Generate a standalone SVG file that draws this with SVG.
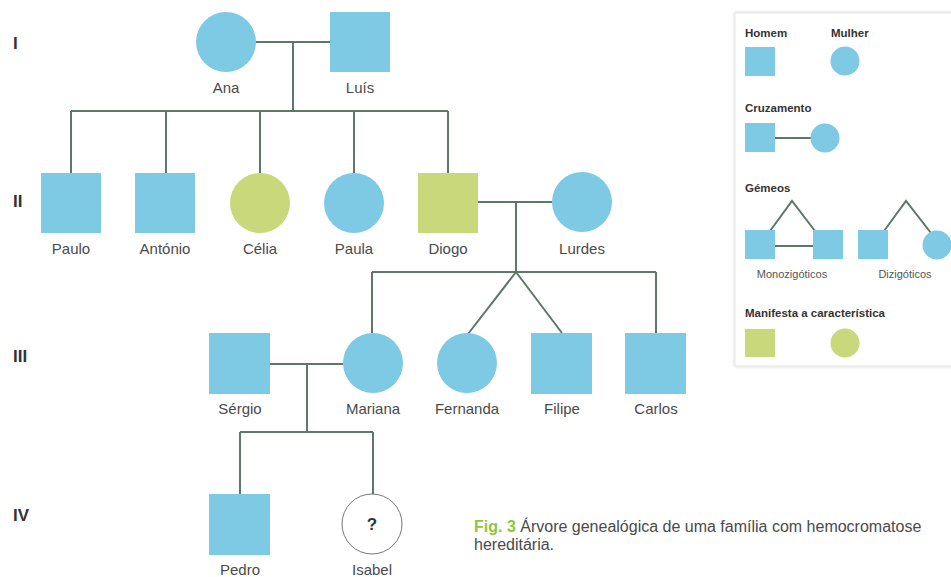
<svg xmlns="http://www.w3.org/2000/svg" width="951" height="577" viewBox="0 0 951 577">
<defs>
<style>
.b{fill:#7ec9e3}
.g{fill:#c9d87b}
.ln{stroke:#5e7868;stroke-width:2;fill:none}
.lbl{font-family:"Liberation Sans",Arial,sans-serif;font-size:15px;fill:#4a4a4a;text-anchor:middle}
.gen{font-family:"Liberation Sans",Arial,sans-serif;font-size:17px;font-weight:bold;fill:#333}
.lt{font-family:"Liberation Sans",Arial,sans-serif;font-size:11.5px;font-weight:bold;fill:#333}
.ls{font-family:"Liberation Sans",Arial,sans-serif;font-size:11px;fill:#555;text-anchor:middle}
.cap{font-family:"Liberation Sans",Arial,sans-serif;font-size:16px;fill:#4a4a4a}
</style>
<filter id="sh" x="-5%" y="-5%" width="110%" height="110%">
<feDropShadow dx="0" dy="0" stdDeviation="1.5" flood-color="#000" flood-opacity="0.2"/>
</filter>
</defs>
<rect width="951" height="577" fill="#fff"/>

<g id="generations">
<text class="gen" x="13" y="49">I</text>
<text class="gen" x="13" y="207">II</text>
<text class="gen" x="13" y="362">III</text>
<text class="gen" x="13" y="521">IV</text>
</g>

<g id="connectors">
<path class="ln" d="M256 42H330M293 42V111M71 111H448M71 111V173M166 111V173M260 111V173M354 111V173M448 111V173"/>
<path class="ln" d="M478 202H552M516 202V272M372 272H656M372 272V333M656 272V333M516 272L468 334M516 272L562 333"/>
<path class="ln" d="M270 364H343M307 364V432M240 432H373M240 432V494M373 432V494"/>
</g>

<g id="ana"><circle class="b" cx="226" cy="42" r="30"/><text class="lbl" x="226" y="93">Ana</text></g>
<g id="luis"><rect class="b" x="330" y="12" width="60" height="60"/><text class="lbl" x="360" y="93">Luís</text></g>

<g id="paulo"><rect class="b" x="41" y="173" width="60" height="60"/><text class="lbl" x="71" y="254">Paulo</text></g>
<g id="antonio"><rect class="b" x="135" y="173" width="60" height="60"/><text class="lbl" x="165" y="254">António</text></g>
<g id="celia"><circle class="g" cx="260" cy="203" r="30"/><text class="lbl" x="260" y="254">Célia</text></g>
<g id="paula"><circle class="b" cx="354" cy="203" r="30"/><text class="lbl" x="354" y="254">Paula</text></g>
<g id="diogo"><rect class="g" x="418" y="173" width="60" height="60"/><text class="lbl" x="448" y="254">Diogo</text></g>
<g id="lurdes"><circle class="b" cx="582" cy="202" r="30"/><text class="lbl" x="582" y="254">Lurdes</text></g>

<g id="sergio"><rect class="b" x="209" y="333" width="61" height="61"/><text class="lbl" x="240" y="414">Sérgio</text></g>
<g id="mariana"><circle class="b" cx="373" cy="363" r="30"/><text class="lbl" x="373" y="414">Mariana</text></g>
<g id="fernanda"><circle class="b" cx="467" cy="363" r="30"/><text class="lbl" x="467" y="414">Fernanda</text></g>
<g id="filipe"><rect class="b" x="531" y="333" width="61" height="61"/><text class="lbl" x="562" y="414">Filipe</text></g>
<g id="carlos"><rect class="b" x="625" y="333" width="61" height="61"/><text class="lbl" x="656" y="414">Carlos</text></g>

<g id="pedro"><rect class="b" x="209" y="494" width="61" height="61"/><text class="lbl" x="240" y="575">Pedro</text></g>
<g id="isabel"><circle cx="372" cy="524" r="30" fill="#fff" stroke="#777" stroke-width="1"/><text x="372" y="530" font-family="Liberation Sans,Arial,sans-serif" font-size="17" font-weight="bold" fill="#333" text-anchor="middle">?</text><text class="lbl" x="372" y="575">Isabel</text></g>

<g id="legend">
<rect x="735" y="13" width="230" height="353" fill="#fff" stroke="#e6e6e6" stroke-width="1" filter="url(#sh)"/>
<text class="lt" x="745" y="37">Homem</text>
<text class="lt" x="831" y="37">Mulher</text>
<rect class="b" x="745" y="47" width="30" height="29"/>
<circle class="b" cx="845" cy="61" r="14.5"/>
<text class="lt" x="745" y="112">Cruzamento</text>
<rect class="b" x="745" y="123" width="30" height="29"/>
<path class="ln" d="M775 138H811"/>
<circle class="b" cx="825" cy="138" r="14.5"/>
<text class="lt" x="745" y="192">Gémeos</text>
<path class="ln" d="M770 231L792 201L815 231M775 246H813"/>
<rect class="b" x="745" y="230" width="30" height="29"/>
<rect class="b" x="813" y="230" width="30" height="29"/>
<text class="ls" x="792" y="278">Monozigóticos</text>
<path class="ln" d="M884 231L906 201L931 233"/>
<rect class="b" x="858" y="230" width="30" height="29"/>
<circle class="b" cx="937" cy="245" r="14.5"/>
<text class="ls" x="905" y="278">Dizigóticos</text>
<text class="lt" x="745" y="317">Manifesta a característica</text>
<rect class="g" x="745" y="329" width="30" height="28"/>
<circle class="g" cx="845" cy="343" r="14.5"/>
</g>

<g id="caption">
<text class="cap" x="474" y="532"><tspan fill="#8cc63f" font-weight="bold">Fig. 3</tspan> Árvore genealógica de uma família com hemocromatose</text>
<text class="cap" x="474" y="550">hereditária.</text>
</g>
</svg>
